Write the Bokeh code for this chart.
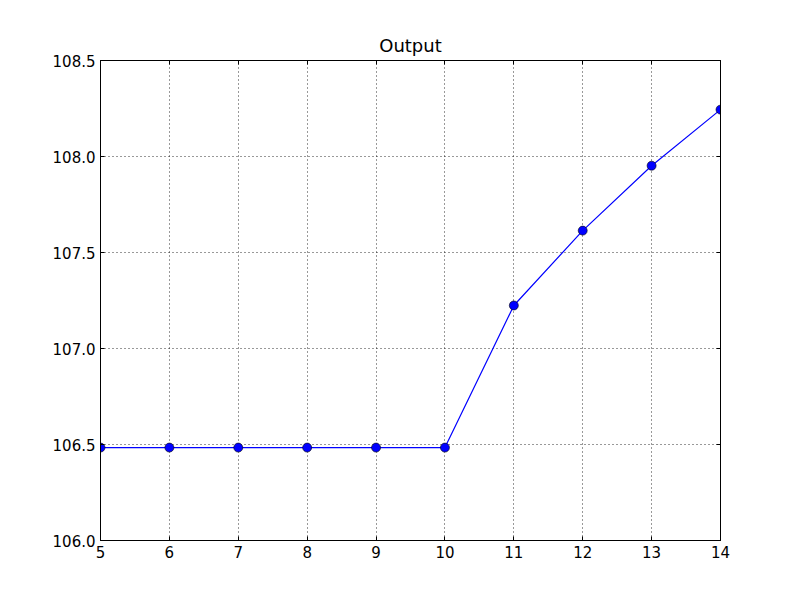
from bokeh.plotting import figure
from bokeh.models import Range1d, LinearAxis, FixedTicker, PrintfTickFormatter
from bokeh.embed import file_html
from bokeh.resources import INLINE

x_vals = [5, 6, 7, 8, 9, 10, 11, 12, 13, 14]
y_vals = [106.484, 106.484, 106.484, 106.484, 106.484, 106.484, 107.224, 107.614, 107.952, 108.244]
x_ticks = [5, 6, 7, 8, 9, 10, 11, 12, 13, 14]
y_ticks = [106.0, 106.5, 107.0, 107.5, 108.0, 108.5]
title_text = "Output"

FONT = "DejaVu Sans"

p = figure(width=784, height=584, output_backend="svg", toolbar_location=None,
           x_range=Range1d(5, 14), y_range=Range1d(106.0, 108.5),
           x_axis_location=None, y_axis_location=None,
           min_border_left=100, min_border_right=64, min_border_top=60, min_border_bottom=44,
           title=title_text)
p.background_fill_color = "white"
p.border_fill_color = "white"
p.outline_line_color = "black"
p.outline_line_width = 1

p.title.align = "center"
p.title.text_font = FONT
p.title.text_font_size = "18px"
p.title.text_font_style = "normal"
p.title.text_color = "black"

def make_axis(ticks, show_labels, fmt=None):
    ax = LinearAxis(ticker=FixedTicker(ticks=ticks))
    if fmt is not None:
        ax.formatter = fmt
    ax.axis_line_color = "black"
    ax.major_tick_line_color = "black"
    ax.major_tick_in = 4
    ax.major_tick_out = 0
    ax.minor_tick_line_color = None
    ax.major_label_text_font = FONT
    ax.major_label_text_font_size = "15px"
    ax.major_label_text_color = "black"
    ax.major_label_standoff = 5
    if not show_labels:
        ax.major_label_text_font_size = "0px"
        ax.major_label_text_color = None
    return ax

p.add_layout(make_axis(x_ticks, True), "below")
p.add_layout(make_axis(y_ticks, True, PrintfTickFormatter(format="%.1f")), "left")
p.add_layout(make_axis(x_ticks, False), "above")
p.add_layout(make_axis(y_ticks, False, PrintfTickFormatter(format="%.1f")), "right")

p.xgrid.ticker = FixedTicker(ticks=x_ticks)
p.ygrid.ticker = FixedTicker(ticks=y_ticks)
for g in (p.xgrid, p.ygrid):
    g.grid_line_color = "black"
    g.grid_line_alpha = 0.8
    g.grid_line_width = 1
    g.grid_line_dash = "1 3"

p.line(x_vals, y_vals, line_color="#0000ff", line_width=1.2)
p.scatter(x_vals, y_vals, size=9, fill_color="#0000ff", line_color="black", line_width=0.6)

open("out.html", "w").write(file_html(p, INLINE))
